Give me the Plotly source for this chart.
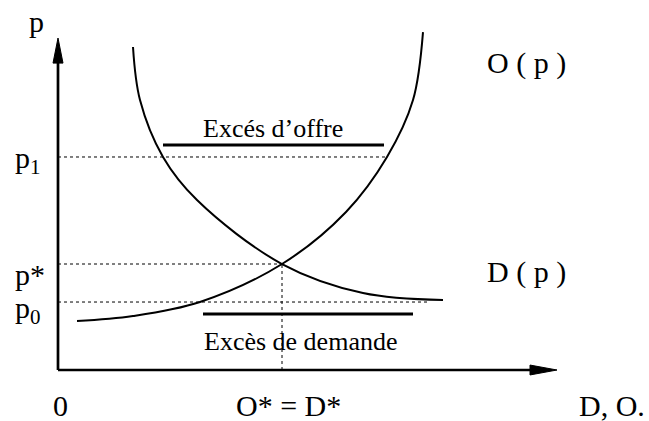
import plotly.graph_objects as go

# ---- data (quantity Q, price P) ----
supply_q = [0.38, 1.50, 2.84, 4.48, 5.76, 6.58, 7.10, 7.30]
supply_p = [1.485, 1.636, 2.06, 3.212, 4.79, 6.455, 8.18, 10.24]

demand_q = [1.50, 1.64, 2.10, 2.78, 4.48, 6.10, 7.70]
demand_p = [9.788, 8.18, 6.455, 5.15, 3.212, 2.333, 2.12]

p1, p_star, p0 = 6.455, 3.212, 2.06
q_star = 4.48
q_p1_end = 6.58
q_p0_end = 7.44

excess_supply_p, excess_supply_q = 6.82, [2.10, 6.52]
excess_demand_p, excess_demand_q = 1.697, [2.90, 7.10]

y_axis_top, x_axis_end = 10.06, 9.98

FONT = "Times New Roman, Liberation Serif, serif"

fig = go.Figure()

def line(xs, ys, width=2, dash=None):
    fig.add_trace(go.Scatter(x=xs, y=ys, mode="lines", hoverinfo="skip",
                             line=dict(color="black", width=width, dash=dash,
                                       shape="spline" if len(xs) > 2 else "linear",
                                       smoothing=1.0)))

# dotted guides
line([0, q_p1_end], [p1, p1], 1, "dot")
line([0, q_star], [p_star, p_star], 1, "dot")
line([q_star, q_star], [0, p_star], 1, "dot")
line([0, q_p0_end], [p0, p0], 1, "dot")

# curves
line(supply_q, supply_p, 2)
line(demand_q, demand_p, 2)

# excess bars
line(excess_supply_q, [excess_supply_p] * 2, 3)
line(excess_demand_q, [excess_demand_p] * 2, 3)

# axes with arrowheads
shapes = [
    dict(type="line", x0=0, y0=0, x1=0, y1=9.30, line=dict(color="black", width=2.7)),
    dict(type="line", x0=0, y0=0, x1=9.46, y1=0, line=dict(color="black", width=2.7)),
    dict(type="path", path=f"M -0.1 9.30 L 0.1 9.30 L 0 {y_axis_top} Z",
         fillcolor="black", line=dict(color="black", width=1)),
    dict(type="path", path=f"M 9.44 -0.15 L 9.44 0.15 L {x_axis_end} 0 Z",
         fillcolor="black", line=dict(color="black", width=1)),
]
for s in shapes:
    s.update(xref="x", yref="y")
fig.update_layout(shapes=shapes)

def txt(x, y, t, size=30, xanchor="center"):
    fig.add_annotation(x=x, y=y, text=t, showarrow=False, xanchor=xanchor,
                       yanchor="middle", font=dict(family=FONT, size=size, color="black"))

txt(-0.44, 10.55, "p")
txt(-0.9, 6.36, "p<sub>1</sub>", xanchor="left")
txt(-0.9, 2.9, "p*", xanchor="left")
txt(-0.9, 1.82, "p<sub>0</sub>", xanchor="left")
txt(0.04, -1.08, "0")
txt(4.6, -1.08, "O* = D*")
txt(11.08, -1.08, "D, O.")
txt(9.36, 9.3, "O ( p )")
txt(9.36, 2.98, "D ( p )")
txt(4.3, 7.33, "Excés d’offre", 26)
txt(4.84, 0.85, "Excès de demande", 26)

fig.update_layout(
    width=649, height=421, autosize=False,
    margin=dict(l=0, r=0, t=0, b=0),
    plot_bgcolor="white", paper_bgcolor="white",
    showlegend=False,
    xaxis=dict(range=[-1.16, 11.82], visible=False, fixedrange=True),
    yaxis=dict(range=[-1.545, 11.212], visible=False, fixedrange=True),
)
fig.write_html("out.html", config={"displayModeBar": False},
               post_script="document.body.style.margin='0';document.body.style.overflow='hidden';")
